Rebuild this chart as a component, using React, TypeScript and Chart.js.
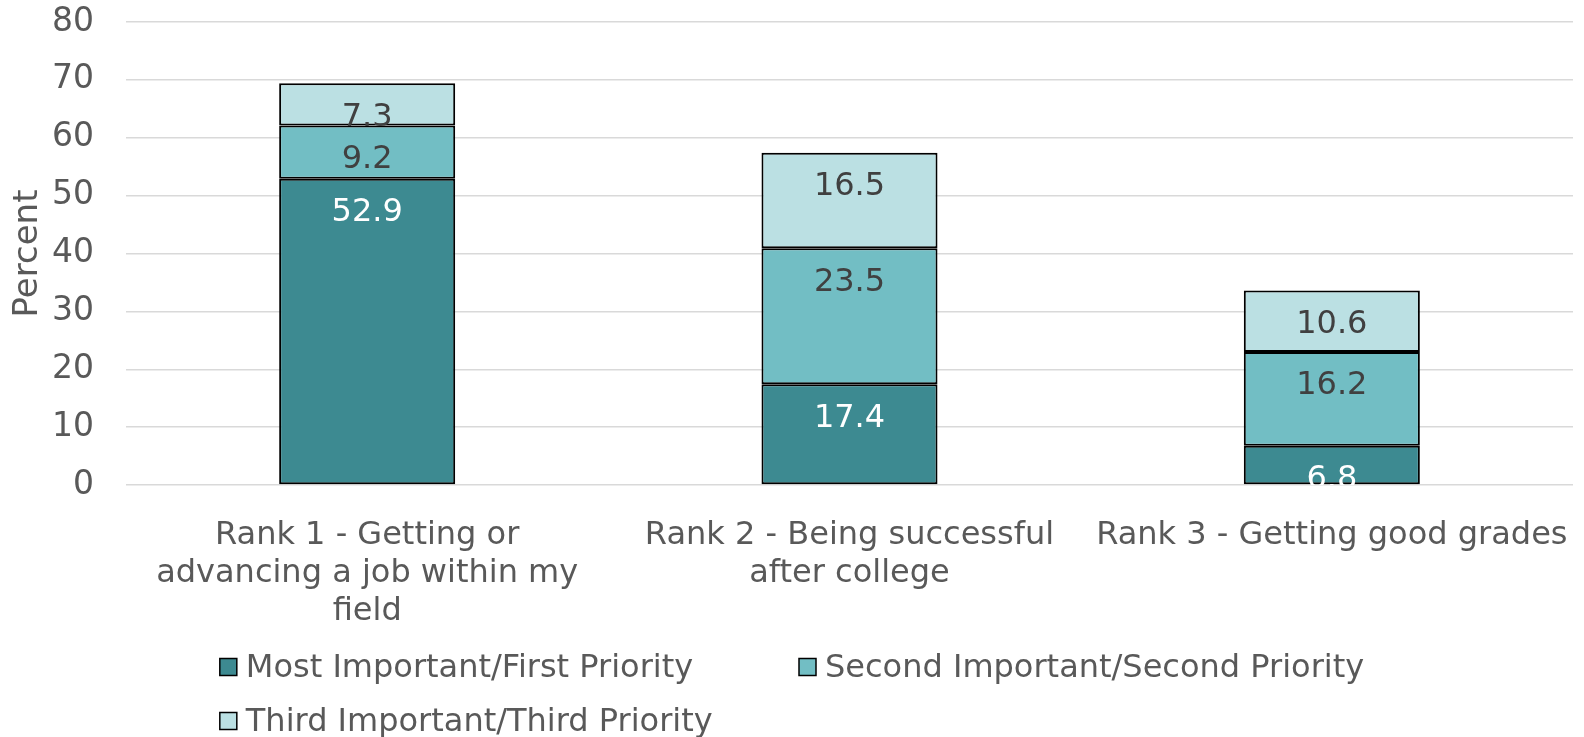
import React, { useEffect, useRef } from "react";
import { Chart, registerables } from "chart.js";

Chart.register(...registerables);

const categories: string[][] = [
  ["Rank 1 - Getting or", "advancing a job within my", "field"],
  ["Rank 2 - Being successful", "after college"],
  ["Rank 3 - Getting good grades"],
];
const seriesNames = [
  "Most Important/First Priority",
  "Second Important/Second Priority",
  "Third Important/Third Priority",
];
const firstPriority = [52.9, 17.4, 6.8];
const secondPriority = [9.2, 23.5, 16.2];
const thirdPriority = [7.3, 16.5, 10.6];
const seriesColors = ["#3D8A91", "#72BEC4", "#BBE0E3"];
const labelColors = ["#FFFFFF", "#404040", "#404040"];
const yTicks = { min: 0, max: 80, step: 10 };

const FONT = "'DejaVu Sans', Verdana, sans-serif";
const FS = 32;
const TEXT = "#595959";

const dataLabelPlugin = {
  id: "dataLabels",
  afterDatasetsDraw(chart: any) {
    const { ctx, chartArea } = chart;
    ctx.save();
    ctx.beginPath();
    ctx.rect(chartArea.left, chartArea.top, chartArea.right - chartArea.left, chartArea.bottom - chartArea.top);
    ctx.clip();
    ctx.font = `${FS}px ${FONT}`;
    ctx.textAlign = "center";
    ctx.textBaseline = "middle";
    chart.data.datasets.forEach((ds: any, i: number) => {
      const meta = chart.getDatasetMeta(i);
      meta.data.forEach((el: any, j: number) => {
        ctx.fillStyle = labelColors[i];
        ctx.fillText(ds.data[j].toFixed(1), el.x, el.y + 34);
      });
    });
    ctx.restore();
  },
};

const legendPlugin = {
  id: "customLegend",
  afterDraw(chart: any) {
    const { ctx, width } = chart;
    ctx.save();
    ctx.font = `${FS}px ${FONT}`;
    const box = 17;
    const gapText = 9;
    const colGap = 14;
    const widths = seriesNames.map((n) => box + gapText + ctx.measureText(n).width);
    const colW = Math.max(...widths) + colGap;
    const rows = [[0, 1], [2]];
    const rowY = [667, 721];
    const rowStart = (width - (colW + widths[1])) / 2;
    rows.forEach((row, r) => {
      row.forEach((idx, c) => {
        const x = rowStart + c * colW;
        const y = rowY[r];
        ctx.fillStyle = seriesColors[idx];
        ctx.fillRect(x, y - box / 2, box, box);
        ctx.strokeStyle = "#000000";
        ctx.lineWidth = 1.5;
        ctx.strokeRect(x, y - box / 2, box, box);
        ctx.fillStyle = TEXT;
        ctx.textAlign = "left";
        ctx.textBaseline = "middle";
        ctx.fillText(seriesNames[idx], x + box + gapText, y + 2);
      });
    });
    ctx.restore();
  },
};

export default function App() {
  const ref = useRef<HTMLCanvasElement | null>(null);
  useEffect(() => {
    document.body.style.margin = "0";
    const canvas = ref.current!;
    const mk = (i: number, data: number[]) => ({
      label: seriesNames[i],
      data,
      backgroundColor: seriesColors[i],
      borderColor: "#000000",
      borderWidth: 2,
      borderSkipped: false as const,
      categoryPercentage: 1,
      barPercentage: 0.365,
    });
    const chart = new Chart(canvas, {
      type: "bar",
      data: {
        labels: categories,
        datasets: [mk(0, firstPriority), mk(1, secondPriority), mk(2, thirdPriority)],
      },
      options: {
        responsive: false,
        animation: false,
        layout: { padding: { top: 22, right: 11, bottom: 0, left: 0 } },
        plugins: { legend: { display: false }, tooltip: { enabled: false } },
        scales: {
          x: {
            stacked: true,
            grid: { display: false },
            border: { display: false },
            ticks: { color: TEXT, font: { family: FONT, size: FS }, padding: 23, maxRotation: 0, autoSkip: false },
            afterFit: (s: any) => {
              s.height = 737 - 485;
              s.paddingLeft = 0;
              s.paddingRight = 0;
            },
          },
          y: {
            stacked: true,
            min: yTicks.min,
            max: yTicks.max,
            grid: { color: "#D9D9D9", lineWidth: 1.5, drawTicks: false },
            border: { display: false },
            ticks: { stepSize: yTicks.step, color: TEXT, font: { family: FONT, size: 33 }, padding: 32 },
            title: { display: true, text: "Percent", color: TEXT, font: { family: FONT, size: 34 }, padding: { top: 8, bottom: 0 } },
            afterFit: (s: any) => {
              s.width = 126;
              s.paddingTop = 0;
              s.paddingBottom = 0;
            },
          },
        },
      },
      plugins: [dataLabelPlugin, legendPlugin],
    });
    return () => chart.destroy();
  }, []);
  return (
    <div style={{ width: 1584, height: 737 }}>
      <canvas ref={ref} width={1584} height={737} />
    </div>
  );
}
